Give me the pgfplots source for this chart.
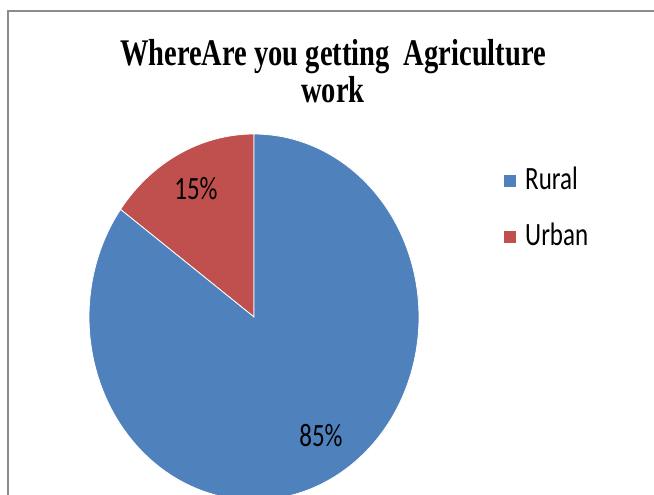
\documentclass[border=0pt]{standalone}
\usepackage{pgfplots}
\pgfplotsset{compat=1.18}
\usepackage{pgfplotstable}
\usepackage{graphicx}
\usepackage{fontspec}
\setmainfont{Carlito}
\newfontfamily\titlefont{Liberation Serif}
\definecolor{ruralc}{HTML}{4F81BD}
\definecolor{urbanc}{HTML}{C0504D}
\definecolor{framec}{HTML}{8C8C8C}
\pgfplotstableread{
label value
Rural 85
Urban 15
}\piedata
\pgfplotstablegetelem{0}{value}\of\piedata \let\ruralv\pgfplotsretval
\pgfplotstablegetelem{1}{value}\of\piedata \let\urbanv\pgfplotsretval
\pgfmathsetmacro{\urbanend}{90+3.6*\urbanv}
\pgfmathsetmacro{\ruralend}{\urbanend+3.6*\ruralv}
\begin{document}
\begin{tikzpicture}
\useasboundingbox (0,0) rectangle (654bp,495bp);
\begin{axis}[
  width=654bp, height=495bp, scale only axis,
  xmin=0, xmax=654, ymin=0, ymax=495, y dir=reverse,
  hide axis, clip=true,
]
% frame
\draw[framec, line width=2bp] (axis cs:8,496) -- (axis cs:8,11) -- (axis cs:655,11);
% pie slices
\addplot[fill=urbanc, draw=white, line width=0.8bp, domain=90:\urbanend, samples=60, variable=\t]
  ({254+165*cos(\t)},{317-183*sin(\t)}) -- (axis cs:254,317) -- cycle;
\addplot[fill=ruralc, draw=white, line width=0.8bp, domain=\urbanend:\ruralend, samples=200, variable=\t]
  ({254+165*cos(\t)},{317-183*sin(\t)}) -- (axis cs:254,317) -- cycle;
% labels
\node[anchor=base] at (axis cs:196,199) {\scalebox{1}[1.3]{\fontsize{25bp}{30bp}\selectfont 15\%}};
\node[anchor=base] at (axis cs:321,446) {\scalebox{1}[1.3]{\fontsize{25bp}{30bp}\selectfont 85\%}};
% title
\node[anchor=base] at (axis cs:333,66) {\scalebox{1}[1.32]{\titlefont\bfseries\fontsize{28.5bp}{34bp}\selectfont WhereAre you getting\ \ Agriculture}};
\node[anchor=base] at (axis cs:333,102) {\scalebox{1}[1.32]{\titlefont\bfseries\fontsize{28.5bp}{34bp}\selectfont work}};
% legend
\fill[ruralc] (axis cs:504,175) rectangle (axis cs:516,187);
\fill[urbanc] (axis cs:504,231) rectangle (axis cs:516,243);
\node[anchor=base west, inner sep=0pt] at (axis cs:525,189) {\scalebox{1}[1.3]{\fontsize{25bp}{30bp}\selectfont Rural}};
\node[anchor=base west, inner sep=0pt] at (axis cs:525,245) {\scalebox{1}[1.3]{\fontsize{25bp}{30bp}\selectfont Urban}};
\end{axis}
\end{tikzpicture}
\end{document}
